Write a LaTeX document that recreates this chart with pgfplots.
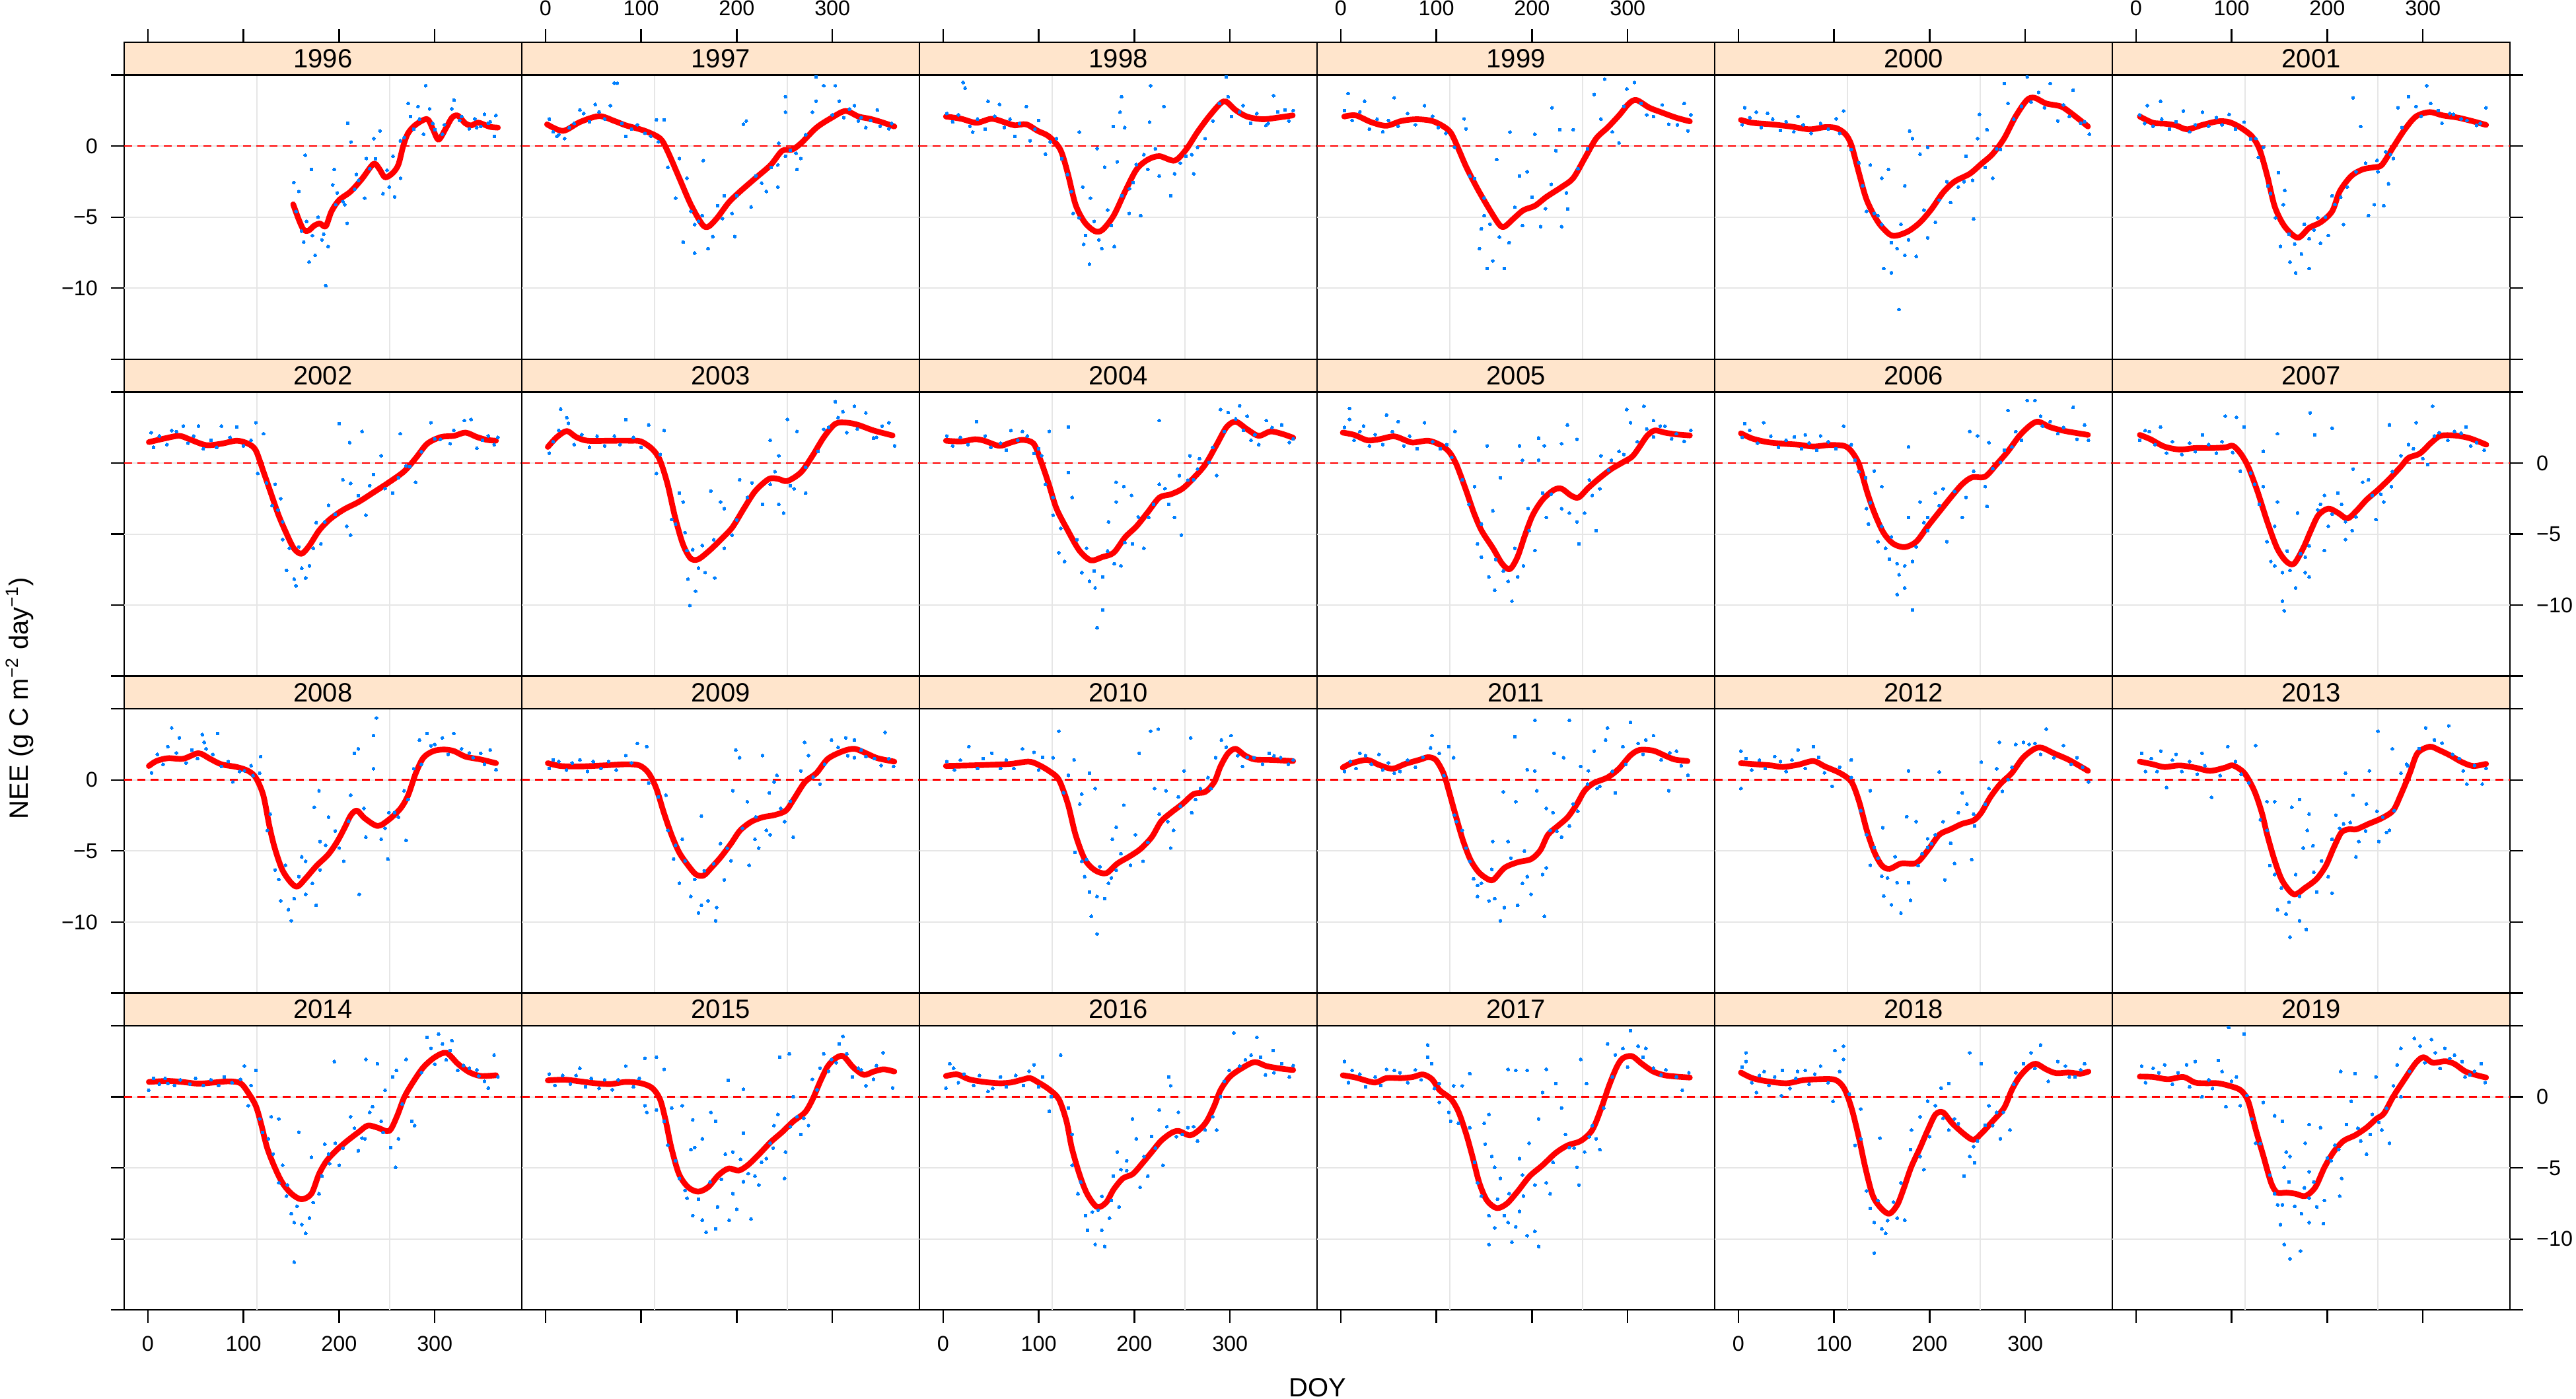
\documentclass[border=0pt]{standalone}
\usepackage{fontspec}
\setmainfont{Liberation Sans}
\usepackage{pgfplots}
\pgfplotsset{compat=1.18}
\definecolor{stripcol}{HTML}{FFE5CC}
\definecolor{dotcol}{HTML}{0080FF}
\definecolor{gridcol}{HTML}{E6E6E6}
\pgfplotsset{
  panel/.style={
    scale only axis, width=180.6pt, height=143.94pt, anchor=north west,
    xmin=-24.7, xmax=391, ymin=-15, ymax=7.306, clip=false,
    axis line style={line width=0.7pt},
    tick align=outside, major tick length=6pt,
    every tick/.style={black, line width=0.7pt},
    tick label style={font=\fontsize{9.7}{11}\selectfont},
    xtick=\empty, ytick=\empty,
    extra x ticks={114,253}, extra x tick labels={},
    extra x tick style={grid=major, major tick length=0pt},
    extra y ticks={-10,-5,0}, extra y tick labels={},
    extra y tick style={grid=major, major tick length=0pt},
    major grid style={gridcol, line width=0.6pt},
    xticklabel shift=2.5pt, yticklabel shift=2.5pt,
  },
  top/.style={xtick={0,100,200,300}, xtick pos=right, xticklabels={,,,}},
  topL/.style={xtick={0,100,200,300}, xtick pos=right, xticklabel pos=right, xticklabels={0,100,200,300}},
  bot/.style={xtick={0,100,200,300}, xtick pos=left, xticklabels={,,,}},
  botL/.style={xtick={0,100,200,300}, xtick pos=left, xticklabels={0,100,200,300}},
  lft/.style={ytick={-15,-10,-5,0,5}, ytick pos=left, yticklabels={,,,,}},
  lftL/.style={ytick={-15,-10,-5,0,5}, ytick pos=left, yticklabels={,−10,−5,0,}},
  rgt/.style={ytick={-15,-10,-5,0,5}, ytick pos=right, yticklabel pos=right, yticklabels={,,,,}},
  rgtL/.style={ytick={-15,-10,-5,0,5}, ytick pos=right, yticklabel pos=right, yticklabels={,−10,−5,0,}},
  zeroline/.style={red, line width=0.8pt, dash pattern=on 3.6pt off 2.4pt, no marks},
  dots/.style={only marks, color=dotcol, mark=*, mark size=0.7pt, mark options={solid, fill=dotcol, draw=dotcol, line width=0pt}},
  curve/.style={red, line width=2.6pt, smooth, tension=0.5, no marks, line join=round, line cap=round},
}
\newcommand{\panel}[6]{%
\begin{axis}[panel, at={({56.4pt+180.6pt*#1},{-19.2pt-143.94pt*#2})}, #4]
\addplot[zeroline] coordinates {(-24.7,0) (391,0)};
\addplot[dots] coordinates {#6};
\addplot[curve] coordinates {#5};
\fill[stripcol] (axis cs:-24.7,5) rectangle (axis cs:391,7.306);
\draw[line width=0.7pt] (axis cs:-24.7,5) rectangle (axis cs:391,7.306);
\node[font=\fontsize{12}{14}\selectfont] at (axis cs:183.15,6.153) {#3};
\end{axis}}
\begin{document}
\begin{tikzpicture}
\useasboundingbox (0,0) rectangle (1170pt,-635.1pt);
% ---------------- row 1
\panel{0}{0}{1996}{top,lftL}
{(152,-4.1)(158,-5.2)(163,-5.9)(168,-5.95)(174,-5.6)(180,-5.45)(186,-5.65)(192,-4.6)(200,-3.8)(212,-3.2)(224,-2.3)(236,-1.25)(242,-1.6)(248,-2.2)(256,-1.9)(262,-1.3)(267,0.0)(272,0.9)(280,1.5)(292,1.9)(298,1.2)(304,0.45)(312,1.3)(318,2.0)(324,2.15)(332,1.6)(338,1.45)(345,1.65)(352,1.5)(358,1.35)(366,1.3)}
{(152.6,-2.57)(158,-3.19)(164.6,-0.64)(171,-1.64)(160.6,-5.98)(163,-6.76)(168.6,-8.16)(175,-7.69)(186.1,-9.83)(182,-6.6)(188.5,-7.07)(194.9,-1.64)(193.3,-2.73)(196.5,-4.12)(208.4,-5.44)(206,-4.12)(209,1.61)(212.4,0.29)(216.4,-3.04)(220.4,-2.42)(226.8,-3.66)(228.4,-0.87)(236.4,0.53)(242.7,1.07)(245.9,-3.35)(252.3,-2.88)(258,-3.58)(256.3,-0.71)(264.3,-2.26)(272.2,3.0)(274.6,2.08)(282.5,2.78)(290.6,4.25)(294.6,2.62)(300.1,1.15)(288.2,0.84)(320.1,3.24)(317.7,2.62)(328,2.08)(336,1.22)(341.8,1.92)(352,2.23)(356,1.61)(363.9,2.16)(362.3,0.68)(348,1.38)(308,0.84)(264,0.37)(155,-4.6)(166,-5.3)(172,-6.3)(178,-5.0)(184,-6.2)(198,-3.3)(204,-3.9)(218,-2.0)(232,-1.6)(238,-0.9)(250,-1.7)(268,0.6)(278,1.2)(284,1.9)(298,1.6)(310,1.5)(326,1.8)(344,1.3)(358,1.7)}
\panel{1}{0}{1997}{topL}
{(1.7,1.53)(18.4,1.07)(36,1.69)(56,2.11)(72,1.77)(84,1.46)(104,1.07)(120,0.53)(128,-0.4)(140,-2.26)(152,-4.12)(164,-5.52)(170.4,-5.67)(179.6,-5.05)(191.6,-3.97)(203.6,-3.19)(219.5,-2.26)(235.5,-1.33)(247.5,-0.33)(257.9,-0.25)(267.5,0.22)(283.4,1.3)(299.4,2.0)(313.7,2.47)(327.3,2.08)(339.3,1.92)(351.2,1.69)(364.8,1.38)}
{(72,4.43)(75,4.43)(36,2.54)(52,2.93)(68,2.85)(12,0.68)(20,0.53)(84,0.68)(116,1.84)(124,1.84)(128,-1.49)(140,-0.87)(148,-2.26)(136,-3.66)(152,-4.59)(156,-5.52)(144,-6.76)(156,-7.53)(170,-7.22)(175,-6.37)(198,-6.37)(165,-1.02)(187,-3.5)(195,-4.74)(215,-4.28)(210,1.77)(207,1.53)(231,-3.19)(243,-2.88)(243,-1.33)(251,-0.71)(263,-1.64)(267,-0.87)(251,3.47)(283,4.87)(291,4.25)(303,4.25)(283,3.16)(279,2.39)(251,2.39)(307,3.16)(323,2.85)(335,1.3)(347,2.54)(359,1.22)(327,1.77)(4,1.9)(8,1.0)(14,0.8)(25,1.3)(30,1.6)(40,2.3)(46,1.7)(56,2.4)(62,1.9)(80,1.6)(90,1.2)(96,1.5)(104,0.9)(110,0.7)(118,0.3)(300,2.2)(312,2.0)(318,2.6)(330,2.0)(340,1.8)(350,1.4)(362,1.6)(256,-0.3)(262,-0.5)(272,0.8)(160,-5.3)(164,-4.9)(180,-4.2)(185,-5.1)(200,-3.5)(220,-2.1)(226,-2.6)(236,-1.5)(244,0.2)}
\panel{2}{0}{1998}{top}
{(3,2.08)(19,1.92)(35,1.64)(51,1.92)(67,1.61)(75,1.46)(87,1.53)(99,1.07)(110.6,0.68)(122.6,-0.25)(130.5,-1.95)(138.5,-4.12)(148,-5.36)(158.4,-5.98)(166.4,-5.91)(178.3,-4.9)(190.3,-3.19)(202.3,-1.64)(214.2,-0.95)(226.2,-0.71)(242.1,-1.02)(254,-0.25)(266,0.99)(278,2.08)(290,3.0)(296,3.13)(305.7,2.54)(317.6,2.08)(333.6,1.89)(349.5,2.0)(365.5,2.16)}
{(21,4.48)(23,4.09)(47,3.16)(59,2.93)(87,2.78)(31,0.99)(75,0.68)(91,0.37)(107,-0.56)(118.6,0.53)(142.5,0.99)(186.6,3.47)(185,2.39)(178,1.38)(190,1.3)(216,1.69)(217,4.25)(231,2.78)(161,-0.17)(169,-1.49)(182,-1.1)(146,-2.88)(154,-3.66)(136,-4.74)(142,-5.05)(149,-6.29)(147,-6.91)(153,-8.31)(166,-7.22)(163,-6.6)(179,-7.07)(187,-3.5)(194.6,-4.74)(206.6,-4.9)(198.6,-2.57)(214,-1.64)(226,-2.11)(242,-1.95)(238,-3.5)(254,-0.71)(262,-1.95)(266,-0.09)(274,0.53)(282,1.77)(289,3.0)(296,4.87)(298,3.47)(301.6,2.08)(313.6,2.85)(321.6,1.61)(337.6,1.46)(345.6,3.55)(357.5,2.54)(361.5,1.77)(4,2.3)(10,1.7)(16,2.2)(28,1.4)(36,1.9)(44,1.2)(54,2.1)(64,1.3)(70,1.9)(80,1.6)(96,1.2)(100,1.8)(112,0.3)(124,-0.9)(130,-2.0)(134,-3.2)(158,-5.3)(172,-4.5)(176,-5.6)(195,-3.0)(202,-1.3)(210,-0.6)(222,-0.2)(248,-1.2)(260,-0.6)(310,2.4)(328,2.3)(340,1.6)(350,2.4)(366,2.5)}
\panel{3}{0}{1999}{topL}
{(3.7,2.08)(15.7,2.16)(31.7,1.69)(47.6,1.43)(63.6,1.77)(79.6,1.89)(95.5,1.77)(107.5,1.38)(115.4,0.91)(123.4,-0.25)(131.4,-1.49)(143.3,-3.04)(155.3,-4.43)(165.7,-5.52)(171.2,-5.67)(181.6,-5.05)(191.1,-4.51)(203.1,-4.2)(215,-3.58)(231,-2.88)(243,-2.26)(255,-0.87)(267,0.53)(279,1.3)(291,2.16)(301.4,3.0)(309.2,3.24)(322.7,2.7)(334.7,2.39)(350.6,2.0)(365,1.74)}
{(7.7,3.7)(25,3.16)(56,3.4)(87.6,2.85)(129,1.92)(163,-0.95)(177,0.99)(153,-8.62)(171,-8.62)(159,-8.08)(147,-5.83)(145,-7.22)(150,-3.66)(187,-2.11)(195,-1.8)(203,0.84)(221,2.7)(229,1.15)(225,-0.33)(231,-5.67)(209,-5.67)(237.4,-4.43)(243,1.15)(265,3.63)(276,4.71)(299,4.02)(307,4.48)(291,0.22)(327,2.08)(343,1.53)(359,3.0)(363,1.07)(135,-2.11)(131,1.22)(119,-0.09)(4,2.5)(12,1.8)(20,2.4)(30,1.2)(38,1.9)(44,1.0)(50,1.8)(60,1.4)(70,2.3)(78,1.5)(96,2.1)(102,1.3)(110,0.9)(140,-2.3)(150,-4.9)(156,-5.5)(166,-6.4)(176,-6.8)(182,-4.3)(190,-5.6)(200,-3.6)(214,-4.4)(220,-2.7)(236,-3.3)(248,-1.6)(258,-0.2)(272,1.9)(284,1.0)(296,2.8)(314,3.0)(320,2.2)(336,2.9)(352,1.5)(366,2.2)}
\panel{4}{0}{2000}{top}
{(2.7,1.84)(14.7,1.64)(34.6,1.53)(54.5,1.38)(74.5,1.18)(90.4,1.33)(102.4,1.27)(112,0.84)(118.3,0.05)(126.3,-1.95)(134.3,-3.81)(146.2,-5.36)(158.2,-6.22)(166.2,-6.29)(178.1,-5.98)(190.1,-5.36)(202,-4.43)(214,-3.27)(226,-2.5)(241.9,-1.95)(253.9,-1.26)(265.8,-0.56)(277.8,0.53)(289.8,2.08)(301.7,3.24)(309.7,3.4)(321.7,3.0)(337.6,2.78)(349.6,2.23)(365.5,1.38)}
{(6.6,2.7)(18.7,2.39)(30.6,2.31)(62.5,2.08)(110,2.47)(102.4,1.92)(118,-0.25)(126,-1.18)(138,-1.33)(150,-2.26)(157,-1.64)(179,1.07)(174,-2.81)(182,0.53)(190,-0.56)(198,-0.09)(134,-4.59)(142,-4.74)(150,-5.52)(152,-8.62)(160,-8.93)(168,-11.5)(174,-7.69)(186,-7.77)(166,-7.22)(198,-6.45)(206,-5.36)(222,-3.97)(230,-2.88)(245,-2.42)(246,-5.13)(238,-0.71)(250,0.53)(252,2.23)(260,1.15)(266,-2.26)(274,-0.25)(282,3.0)(278,4.4)(302,4.87)(314,3.78)(326,4.4)(350,3.94)(358,1.61)(367,0.84)(334,1.77)(346,2.08)(4,1.5)(12,2.0)(24,1.3)(36,1.9)(44,1.1)(50,1.7)(58,1.0)(68,1.5)(76,0.9)(86,1.6)(94,1.2)(106,0.9)(130,-2.8)(146,-4.9)(160,-6.8)(170,-5.5)(178,-6.6)(194,-4.5)(210,-3.8)(218,-2.5)(236,-2.5)(258,-1.5)(270,-0.2)(288,1.9)(296,2.8)(306,3.1)(320,2.7)(340,2.9)(362,1.7)}
\panel{5}{0}{2001}{topL,rgt}
{(4,2.08)(17.7,1.64)(29.6,1.58)(41.6,1.46)(53.5,1.18)(69.5,1.49)(85.4,1.74)(97.4,1.69)(109.4,1.3)(121.3,0.68)(129.3,-0.25)(137.3,-2.11)(145.2,-4.28)(155.6,-5.67)(169.2,-6.45)(181.2,-5.75)(193.1,-5.36)(205.1,-4.59)(213,-3.19)(225,-2.11)(237,-1.64)(249,-1.49)(257,-1.33)(268.8,-0.09)(280.8,1.15)(292.7,2.08)(307.1,2.39)(320.6,2.16)(336.6,2.0)(352.5,1.74)(366,1.49)}
{(11.8,2.85)(25.7,3.16)(49.6,2.47)(69.5,2.39)(97.4,2.23)(113,1.69)(125.3,0.53)(133.3,-0.09)(149,-1.88)(155.6,-3.12)(140.6,-3.35)(146,-5.05)(154,-4.12)(151,-7.07)(161,-8.16)(167,-8.93)(181,-8.62)(173,-7.6)(181,-6.53)(193,-6.84)(201,-6.29)(190,-5.05)(205,-3.5)(217,-5.52)(221,-2.88)(227,3.4)(235,1.38)(243,-4.9)(249,-4.12)(259,-4.2)(253,-1.8)(264,-2.65)(261,-0.4)(269,-0.87)(274,2.7)(285,3.47)(292.7,2.78)(304,4.25)(308,3.0)(320,1.61)(332,2.23)(340,1.92)(356,1.46)(366,2.7)(4,2.2)(9,1.6)(18,1.4)(27,1.9)(35,1.2)(42,1.7)(56,1.0)(62,1.5)(76,1.4)(84,2.0)(90,1.5)(104,1.2)(120,0.5)(128,-0.8)(138,-2.8)(160,-6.2)(166,-6.9)(176,-5.5)(186,-5.9)(198,-5.0)(208,-4.1)(214,-3.6)(230,-1.8)(240,-1.2)(252,-1.0)(266,-0.6)(278,1.3)(298,2.1)(316,2.5)(328,2.3)(346,1.8)(360,1.6)}
% ---------------- row 2
\panel{0}{1}{2002}{lft}
{(1.1,1.47)(17,1.72)(33,1.91)(45,1.63)(61,1.26)(77,1.36)(93,1.57)(104.8,1.36)(112.8,0.9)(120.7,-0.57)(128.7,-2.12)(136.7,-3.67)(144.6,-4.91)(152.6,-6.0)(160.6,-6.39)(168.6,-5.84)(179,-4.76)(190,-3.98)(204.5,-3.29)(220.4,-2.74)(236.4,-2.05)(252.3,-1.35)(268.3,-0.57)(280.3,0.36)(292.2,1.36)(306.5,1.83)(320.1,1.91)(332.1,2.14)(344,1.83)(354.4,1.63)(364,1.57)}
{(3.5,2.14)(25,2.29)(37,2.6)(53,2.6)(77,2.6)(93,2.53)(113,2.84)(121,2.06)(115,-0.73)(133,-1.5)(139,-2.51)(141,-4.14)(141,-5.38)(145,-7.55)(153,-8.17)(155,-8.64)(165,-8.09)(161,-7.4)(169,-7.24)(173,-6.0)(181,-5.69)(185,-4.14)(189,-2.98)(200,2.76)(211,1.44)(204,-1.19)(212,-1.43)(212,-5.07)(208,-4.45)(224,2.22)(228,-3.67)(236,-0.81)(244,0.51)(256,-2.12)(262,-1.04)(264,2.06)(274,-0.26)(280,-1.35)(296,2.84)(306,1.67)(316,1.36)(331,2.99)(338,3.07)(344,1.05)(356,1.91)(362,1.29)(6,1.1)(12,1.9)(20,1.3)(30,2.2)(42,1.4)(48,1.9)(58,1.0)(66,1.6)(72,1.1)(86,1.8)(100,1.2)(108,1.6)(124,-1.4)(130,-3.0)(136,-3.3)(148,-6.0)(158,-5.9)(176,-4.2)(196,-3.6)(220,-2.3)(232,-1.6)(248,-1.8)(270,-0.2)(286,0.8)(300,1.7)(320,2.3)(350,1.6)(366,1.8)}
\panel{1}{1}{2003}{}
{(2.5,1.13)(12.1,1.83)(22.4,2.25)(32,1.83)(44,1.57)(68,1.57)(88,1.57)(99.8,1.52)(111.7,0.98)(119.7,0.2)(127.7,-1.5)(135.6,-3.83)(143.6,-5.69)(151.6,-6.7)(159.6,-6.78)(171.5,-6.16)(183.5,-5.38)(195.4,-4.53)(207.4,-3.21)(219.4,-1.97)(233.7,-1.12)(243.3,-1.12)(252.9,-1.27)(267.2,-0.65)(279.2,0.51)(291.2,1.83)(303.1,2.76)(315.1,2.84)(327,2.68)(343,2.29)(362.9,1.94)}
{(16,3.8)(22.4,3.18)(24,2.8)(84,3.05)(124,2.29)(108,2.68)(116,-0.73)(140,-2.12)(144,-2.74)(132,-3.98)(148,-6.16)(149,-8.17)(157,-9.02)(151,-10.03)(167,-7.71)(177,-8.09)(187,-6.0)(195,-5.07)(173,-1.97)(183,-2.74)(187,-3.21)(203,-1.19)(211,-2.43)(227,-2.9)(235,-1.5)(244,-2.9)(249,-3.52)(235,1.6)(253,3.07)(263,2.22)(244,0.51)(260,-1.81)(272,-2.12)(285,0.82)(291,2.37)(303,4.31)(311,3.61)(323,4.0)(335,3.53)(343,1.75)(359,2.84)(365,1.21)(315,2.14)(4,0.7)(8,1.5)(14,2.3)(30,1.3)(38,2.0)(46,1.1)(54,1.9)(62,1.2)(72,1.9)(78,1.3)(92,1.8)(100,1.1)(120,0.6)(136,-4.3)(146,-4.9)(154,-6.1)(160,-7.4)(164,-5.8)(176,-5.4)(200,-4.0)(216,-1.4)(240,-0.6)(256,-1.6)(272,-0.3)(296,2.5)(306,3.2)(326,2.4)(346,1.8)(352,2.6)}
\panel{2}{1}{2004}{}
{(3,1.57)(19,1.52)(33.3,1.67)(42.9,1.57)(58.8,1.21)(70.8,1.44)(82.8,1.63)(94.7,1.36)(102.7,0.05)(110.6,-1.5)(118.6,-3.21)(130.5,-4.76)(142.5,-6.16)(154.5,-6.85)(166.4,-6.62)(178.4,-6.31)(190.4,-5.22)(202.3,-4.45)(214.3,-3.44)(226.2,-2.43)(238.2,-2.2)(250.2,-1.81)(262.1,-1.04)(274.1,-0.11)(286,1.29)(296.4,2.53)(306,2.91)(318,2.37)(330,1.91)(342,2.22)(354,2.06)(366,1.78)}
{(35,2.91)(71,2.29)(83,2.22)(111,2.22)(131,2.53)(95,0.67)(103,0.51)(107,-1.5)(115,-2.43)(131,-0.68)(135,-2.43)(123,-4.6)(115,-3.67)(121,-6.31)(127,-6.93)(145,-7.71)(153,-8.33)(159,-8.79)(167,-10.34)(161,-11.6)(167,-8.02)(179,-7.09)(186,-7.24)(198,-5.69)(210,-6.0)(173,-4.14)(181,-2.74)(189,-1.66)(197,-2.28)(181,-1.35)(215,-3.83)(226,-1.5)(236,-2.9)(242,-3.83)(249,-5.07)(247,-0.88)(258,0.51)(266,-0.42)(262,-1.19)(278,0.05)(286,-0.88)(290,3.77)(298,3.55)(310,4.02)(318,3.3)(322,1.6)(338,2.99)(330,1.29)(354,2.68)(362,1.44)(226,2.99)(4,1.9)(10,1.2)(18,1.8)(26,1.3)(44,1.9)(50,1.1)(60,1.4)(66,0.9)(78,1.6)(88,1.9)(100,1.0)(140,-5.4)(150,-6.0)(158,-7.6)(172,-6.2)(190,-5.6)(204,-3.8)(220,-2.9)(232,-1.8)(256,-1.2)(268,0.3)(282,1.1)(294,2.2)(306,3.1)(314,2.3)(326,2.0)(344,2.5)(366,1.7)}
\panel{3}{1}{2005}{}
{(2.2,2.14)(14.1,1.98)(27.7,1.6)(40,1.67)(55.6,1.88)(67.6,1.6)(75.5,1.44)(91.5,1.57)(103.4,1.29)(113,0.82)(121,-0.11)(131.3,-1.97)(139.3,-3.52)(147.3,-4.76)(159.2,-6.0)(168.8,-7.09)(176.8,-7.47)(184.8,-6.62)(192.7,-5.07)(200.7,-3.67)(211,-2.59)(223,-1.89)(231,-1.81)(240.6,-2.28)(248.6,-2.43)(259,-1.74)(271,-1.04)(283,-0.42)(295,0.05)(304.4,0.43)(310.8,0.98)(320.3,1.91)(328.3,2.29)(338.7,2.14)(350.6,2.02)(365,1.94)}
{(9.3,3.84)(9.3,3.07)(24,2.6)(48,3.38)(60,2.91)(87.6,2.84)(119.4,2.22)(111,1.29)(127,-1.19)(140,-1.66)(153,1.21)(167,-1.04)(187,1.21)(190,0.2)(207,1.75)(213,1.21)(231,1.36)(237,2.68)(247,1.67)(207,0.2)(159,-3.36)(147,-4.29)(143,-5.69)(147,-6.62)(155,-8.02)(161,-8.95)(175,-8.33)(179,-9.72)(185,-8.02)(191,-7.24)(203,-6.16)(197,-4.76)(215,-3.83)(211,-2.12)(231,-3.21)(239,-3.52)(247,-4.14)(249,-5.69)(255,-3.52)(267,-4.76)(263,-2.28)(271,-1.81)(272,0.51)(283,0.2)(291,0.82)(299,3.77)(303,2.84)(317,4.0)(327,2.99)(339,2.6)(351,2.06)(359,1.52)(327,1.83)(4,2.5)(14,1.6)(20,2.2)(30,1.2)(36,2.0)(44,1.3)(54,2.2)(66,1.2)(72,1.9)(80,1.0)(96,1.5)(104,1.0)(116,0.4)(134,-2.9)(162,-6.8)(170,-7.6)(182,-6.0)(196,-3.2)(220,-2.2)(260,-1.2)(280,-0.5)(296,0.6)(310,1.5)(320,2.4)(334,2.6)(346,1.7)(366,2.3)}
\panel{4}{1}{2006}{}
{(2.7,2.09)(14.7,1.72)(30.6,1.47)(46.6,1.36)(62.5,1.29)(78.5,1.16)(94.4,1.26)(110.4,1.21)(118.3,0.82)(126.3,-0.11)(134.3,-1.97)(142.3,-3.52)(151.8,-4.91)(162.2,-5.69)(174.1,-5.92)(186.1,-5.53)(198.1,-4.45)(210,-3.44)(222,-2.43)(233.9,-1.5)(244.3,-1.01)(257.9,-0.96)(269.8,-0.11)(281.8,0.82)(293.8,1.91)(305.7,2.68)(313.7,2.91)(325.7,2.53)(341.6,2.25)(365.5,1.98)}
{(6.7,2.76)(26.6,2.84)(58.6,1.83)(70,1.98)(86,1.91)(110,2.6)(118,1.29)(122,0.2)(133,-1.04)(142,-0.57)(150,-1.66)(134,-3.21)(136,-4.29)(150,-4.45)(146,-5.53)(154,-6.0)(158,-6.77)(166,-7.09)(174,-7.24)(182,-6.93)(168,-7.86)(174,-8.79)(166,-9.26)(182,-10.34)(178,-3.83)(190,-2.74)(198,-3.83)(198,-4.76)(218,-5.53)(206,-2.12)(214,-1.81)(234,-3.83)(238,-2.43)(242,2.22)(250,1.91)(246,-0.57)(258,-1.66)(260,-3.05)(262,1.44)(274,0.05)(282,3.69)(286,1.13)(302,4.39)(310,4.39)(316,3.3)(326,2.91)(334,2.06)(350,3.92)(354,1.67)(362,2.68)(178,1.13)(4,1.8)(12,2.3)(20,1.4)(34,1.9)(42,1.1)(50,1.6)(66,1.0)(74,1.4)(82,0.9)(94,1.5)(102,1.0)(126,-0.6)(138,-2.8)(160,-5.2)(186,-5.9)(194,-4.2)(210,-3.0)(226,-2.0)(266,-0.4)(278,0.9)(290,2.2)(296,1.6)(318,2.6)(340,2.5)(366,1.6)}
\panel{5}{1}{2007}{rgtL}
{(4,1.98)(15.2,1.67)(29.6,1.16)(45.5,0.95)(61.5,1.05)(77.4,1.05)(93.4,1.1)(101.4,1.21)(109.4,0.67)(117.3,-0.26)(126.9,-1.97)(137.3,-4.14)(147.6,-6.0)(157.2,-6.93)(165.2,-7.09)(174.8,-6.0)(182.8,-4.76)(190.7,-3.67)(201.1,-3.21)(211.5,-3.52)(221,-3.91)(230.6,-3.36)(241,-2.59)(253,-1.89)(264.9,-1.12)(276.9,-0.26)(284.9,0.36)(296.8,0.67)(308.8,1.44)(318.3,1.91)(332.7,1.94)(348.6,1.75)(366.2,1.29)}
{(9.6,2.29)(25.7,2.53)(69.5,1.98)(93.4,3.3)(105,3.22)(113,2.53)(101,0.74)(109,-0.57)(133,0.82)(148,2.06)(182,3.53)(187,1.98)(205,2.45)(133,-1.66)(129,-2.9)(148,-2.74)(145,-4.45)(137,-5.53)(141,-6.93)(145,-7.24)(153,-7.71)(161,-7.55)(167,-8.79)(153,-9.72)(155,-10.4)(177,-7.71)(181,-8.02)(177,-6.62)(181,-5.84)(197,-6.16)(201,-4.45)(193,-2.9)(197,-2.28)(169,-3.52)(211,-2.12)(219,-4.14)(226,-4.76)(219,-5.38)(227,-0.42)(237,-1.35)(243,-1.19)(247,-2.28)(251,-3.98)(259,-2.74)(267,-1.66)(265,2.68)(277,0.51)(285,1.29)(293,2.84)(305,-0.11)(310,4.0)(317,2.14)(333,2.22)(345,2.53)(356,1.44)(364,0.9)(4,1.6)(14,2.2)(20,1.3)(32,0.7)(38,1.5)(48,0.6)(56,1.4)(62,0.8)(76,1.3)(84,0.7)(90,1.5)(120,-0.7)(124,-1.5)(158,-6.2)(172,-6.4)(190,-3.3)(205,-3.6)(215,-2.9)(230,-3.8)(256,-2.2)(268,-0.6)(290,1.0)(300,0.3)(312,1.9)(326,1.6)(340,2.1)(350,1.2)}
% ---------------- row 3
\panel{0}{2}{2008}{lftL}
{(1.1,0.98)(9,1.33)(21,1.53)(37,1.49)(53,1.88)(65,1.49)(76.9,1.1)(92.9,0.91)(104.8,0.64)(112.8,0.17)(120.7,-1.07)(127.1,-3.24)(132.7,-4.79)(140.7,-6.34)(150.2,-7.27)(156.6,-7.5)(164.6,-6.96)(176.6,-6.03)(188.5,-5.26)(198.1,-4.33)(206.1,-3.32)(212.4,-2.47)(218.8,-2.16)(226.8,-2.7)(240.3,-3.24)(252.3,-2.78)(264.3,-2.0)(272.2,-1.07)(280.2,0.48)(288.2,1.57)(298.6,2.03)(309.7,2.14)(320.1,2.03)(332.1,1.64)(348,1.44)(364,1.18)}
{(25,3.66)(21,2.34)(33,2.96)(57,3.19)(59,2.65)(73,3.27)(61,2.19)(77,0.95)(89,-0.14)(101,0.64)(118,1.64)(117,0.48)(125,-3.55)(133,-6.34)(137,-7.0)(139,-8.51)(147,-9.13)(150,-9.91)(153,-8.36)(165,-8.05)(176,-8.82)(172,-7.27)(180,-6.34)(165,-5.72)(161,-5.41)(179,-0.76)(174,-1.92)(180,-4.33)(189,-2.62)(200,-4.79)(205,-5.72)(221,-8.05)(212,-1.07)(220,2.19)(216,1.88)(236,3.12)(239,4.36)(236,0.79)(228,-4.02)(244,-4.17)(251,-5.57)(252,-2.31)(270,-4.25)(262,-2.62)(268,-0.76)(272,-1.38)(278,0.79)(284,2.81)(292,3.27)(300,2.5)(308,2.96)(320,3.27)(328,2.19)(340,1.57)(348,1.88)(358,2.11)(364,0.71)(4,0.5)(10,1.8)(16,1.1)(30,1.9)(40,1.2)(46,2.1)(52,1.5)(68,1.8)(84,1.3)(96,0.6)(108,1.0)(110,0.3)(128,-2.4)(144,-6.0)(158,-6.8)(186,-4.6)(196,-3.6)(210,-2.9)(226,-2.0)(248,-3.4)(258,-2.3)(286,1.1)(296,2.4)(314,1.8)(336,1.9)(352,1.1)}
\panel{1}{2}{2009}{}
{(2.5,1.18)(16,0.98)(36,0.95)(60,1.02)(84,1.1)(98.3,1.02)(107.9,0.48)(115.9,-0.6)(123.8,-2.31)(131.8,-3.86)(139.8,-5.1)(149.3,-6.03)(157.3,-6.65)(165.3,-6.73)(173.3,-6.19)(183.6,-5.41)(194,-4.48)(203.6,-3.55)(215.5,-2.93)(227.5,-2.62)(239.5,-2.47)(251.4,-2.16)(259.4,-1.38)(271.4,-0.14)(283.3,0.48)(295.3,1.49)(311.3,2.03)(323.2,2.19)(335.2,1.88)(347.2,1.53)(364.7,1.29)}
{(8,1.41)(36,1.41)(84,1.72)(96,2.57)(106,2.34)(108,-0.22)(126,-1.07)(128,-3.55)(143,-4.17)(134,-5.57)(140,-7.27)(152,-8.2)(160,-9.36)(178,-9.91)(170,-8.51)(179,-8.98)(163,-8.82)(187,-7.04)(163,-2.54)(183,-4.48)(194,-5.69)(213,-6.0)(199,2.11)(203,1.57)(227,1.72)(196,-0.76)(211,-1.53)(219,-4.17)(223,-4.79)(231,-3.55)(234,-0.91)(239,-0.14)(242,0.33)(235,-3.86)(259,-4.02)(250,-2.93)(267,0.64)(271,2.65)(275,1.72)(287,-0.29)(299,2.81)(314,2.96)(323,2.81)(335,1.64)(351,1.02)(355,3.35)(359,1.49)(364,0.95)(323,1.57)(4,0.8)(14,1.3)(22,0.7)(28,1.2)(44,0.6)(50,1.3)(58,0.8)(66,1.3)(74,0.7)(90,1.2)(118,-1.2)(136,-4.6)(146,-5.7)(156,-7.0)(166,-6.4)(176,-5.9)(190,-4.8)(206,-3.4)(220,-2.6)(246,-2.0)(256,-1.5)(280,0.2)(292,1.1)(306,2.3)(316,1.7)(330,2.1)(344,1.5)}
\panel{2}{2}{2010}{}
{(3,0.98)(27,1.02)(51,1.07)(70.8,1.13)(89.2,1.29)(98.7,1.1)(110.6,0.64)(121,0.02)(130.5,-1.69)(138.5,-3.86)(148,-5.57)(158.4,-6.34)(170.4,-6.57)(182.3,-5.88)(194.3,-5.41)(206.2,-4.87)(218.2,-4.02)(227.8,-2.93)(238.2,-2.31)(250.2,-1.69)(262.1,-0.99)(274.1,-0.84)(283.6,-0.14)(290,0.95)(298,1.88)(306,2.19)(315.6,1.72)(326,1.44)(342,1.41)(366,1.33)}
{(27,2.34)(51,1.88)(83,2.19)(95,1.95)(121,3.43)(115,1.57)(137,1.41)(131,0.33)(153,0.48)(145,-0.99)(143,-1.69)(159,-0.6)(138,-5.1)(145,-5.72)(148,-6.81)(153,-7.89)(161,-8.2)(169,-8.36)(155,-9.6)(161,-10.84)(173,-7.27)(181,-6.34)(177,-4.17)(181,-3.32)(189,-1.77)(201,-3.86)(209,-5.72)(205,1.88)(217,3.43)(225,3.58)(221,-0.6)(233,-0.76)(235,-2.93)(241,-3.55)(238,-4.79)(248,-1.85)(252,0.64)(260,-2.31)(264,-1.38)(259,2.96)(269,-0.6)(277,0.17)(285,1.57)(291,2.81)(301,3.12)(308,1.72)(313,0.95)(325,1.57)(341,1.88)(353,1.57)(361,1.1)(4,1.3)(12,0.7)(18,1.4)(36,0.8)(42,1.5)(60,0.8)(66,1.4)(74,0.8)(100,0.7)(104,1.6)(126,-0.9)(150,-5.6)(164,-6.1)(176,-6.9)(186,-5.2)(196,-6.0)(214,-4.4)(226,-2.4)(246,-1.2)(280,-0.6)(296,2.3)(318,1.6)(334,1.1)(346,1.7)(366,1.4)}
\panel{3}{2}{2011}{}
{(2.2,0.87)(11.7,1.18)(27.7,1.41)(39.6,1.07)(54,0.79)(67.6,1.13)(83.5,1.44)(91.5,1.6)(99.4,1.41)(107.4,0.48)(113,-0.76)(119.4,-2.31)(127.4,-4.17)(135.3,-5.57)(143.3,-6.42)(151.3,-6.88)(159.3,-7.04)(171.2,-6.19)(184.8,-5.8)(199.1,-5.57)(208.7,-4.95)(216.7,-3.86)(227,-3.24)(237.4,-2.62)(247,-1.69)(255,-0.76)(264.5,-0.22)(278.9,0.17)(290.8,0.79)(302.8,1.72)(312.4,2.11)(326.7,2.06)(338.7,1.72)(349.1,1.44)(362.6,1.33)}
{(20,1.88)(40,1.8)(56,0.48)(95.5,3.12)(94,2.26)(103,1.88)(113,2.34)(118,1.57)(119,-2.47)(121,-2.93)(127,-3.55)(131,-4.79)(135,-5.72)(139,-6.96)(143,-7.43)(147,-7.27)(143,-8.2)(155,-8.51)(161,-8.36)(167,-9.91)(171,-8.98)(185,-8.82)(190,-7.27)(199,-8.05)(213,-9.6)(211,-6.65)(215,-6.19)(195,-6.81)(159,-4.33)(175,-4.33)(170,-0.84)(183,-1.53)(182,3.04)(195,0.71)(203,0.64)(205,-0.76)(215,-2.0)(222,-2.31)(223,1.88)(233,1.57)(203,4.2)(239,4.2)(219,-3.55)(231,-4.02)(239,-3.24)(243,-1.69)(251,0.95)(259,0.64)(265,2.03)(271,-0.45)(277,2.81)(279,3.66)(287,-0.91)(295,2.34)(303,4.05)(311,2.57)(319,2.81)(327,3.12)(335,1.41)(343,-0.76)(351,2.03)(363,0.33)(4,0.6)(10,1.3)(16,0.8)(26,1.7)(32,1.1)(44,0.7)(50,1.2)(62,0.6)(70,1.4)(78,0.9)(86,1.6)(108,0.3)(158,-6.3)(178,-5.5)(192,-5.0)(226,-3.6)(248,-2.2)(258,-0.3)(268,-0.6)(284,0.6)(298,1.1)(316,1.8)(344,1.9)(356,1.0)}
\panel{4}{2}{2012}{}
{(2.7,1.18)(18.7,1.1)(34.6,1.02)(46.6,0.91)(62.5,1.07)(78.5,1.33)(90.4,0.95)(106.4,0.48)(118.3,-0.14)(126.3,-1.53)(134.3,-3.55)(142.3,-5.1)(150.2,-6.03)(158.2,-6.26)(170.2,-5.88)(186.1,-5.84)(198.1,-4.95)(210,-3.86)(222,-3.47)(233.9,-3.09)(245.9,-2.85)(253.9,-2.31)(263.4,-1.22)(273.8,-0.29)(285.8,0.48)(297.7,1.57)(309.7,2.19)(317.6,2.26)(329.6,1.88)(345.6,1.41)(365.5,0.64)}
{(2.7,2.03)(2.7,-0.6)(38,1.64)(62.5,2.11)(78.5,2.34)(98,-0.45)(118,1.41)(118,0.17)(138,-0.76)(178,0.64)(210,0.56)(128,-2.16)(134,-3.86)(151,-3.36)(142,-4.76)(138,-6.0)(150,-6.77)(152,-8.17)(160,-8.79)(170,-9.36)(166,-7.24)(178,-7.24)(180,-8.48)(188,-6.03)(198,-4.76)(176,-2.59)(186,-2.93)(198,-4.14)(206,-3.86)(216,-7.04)(214,-2.93)(222,-4.45)(226,-5.88)(230,-2.31)(234,-0.91)(239,-1.69)(244,-5.61)(247,-3.24)(254,1.26)(262,-0.6)(270,0.79)(273,2.65)(282,0.02)(290,2.5)(298,2.65)(310,2.57)(322,3.58)(330,1.57)(340,2.42)(354,1.57)(366,-0.14)(8,1.5)(14,0.7)(22,1.4)(28,0.8)(44,1.3)(50,0.6)(56,1.4)(70,0.8)(84,1.6)(90,0.5)(106,0.9)(146,-5.5)(156,-6.9)(164,-5.4)(192,-5.2)(202,-4.5)(246,-2.4)(258,-1.7)(276,-0.8)(286,0.9)(304,2.5)(316,1.8)(348,1.1)(360,0.9)}
\panel{5}{2}{2013}{rgt}
{(4,1.29)(17.7,1.1)(29.6,0.91)(45.5,1.02)(61.5,0.87)(77.4,0.64)(93.4,0.87)(101.4,1.02)(113.3,0.48)(123.7,-0.76)(131.6,-2.31)(137.2,-3.86)(145.2,-5.72)(153.2,-7.12)(165.1,-8.05)(177.1,-7.58)(189,-6.96)(198.6,-6.03)(206.6,-4.79)(214.6,-3.71)(222.5,-3.47)(230.5,-3.47)(243.3,-3.09)(256.8,-2.7)(268.8,-2.16)(276.7,-1.07)(286.3,0.48)(294.3,1.88)(307,2.34)(316.6,2.11)(328.6,1.72)(340.6,1.26)(352.5,0.98)(366,1.13)}
{(6,1.88)(26,2.03)(42,1.8)(69,1.88)(32,-0.53)(79,-1.22)(96,2.34)(125,2.42)(137,-1.53)(145,-1.53)(137,-3.55)(140,-6.03)(145,-6.65)(148,-9.13)(157,-9.44)(161,-11.07)(171,-9.91)(178,-10.53)(171,-8.2)(167,-6.65)(175,-4.79)(179,-3.55)(171,-1.38)(163,-1.92)(181,-2.39)(185,-4.64)(189,-7.89)(201,-6.81)(205,-7.97)(205,-4.17)(213,-3.4)(209,-2.47)(217,-3.09)(219,0.48)(227,-1.07)(230,-5.41)(233,-4.33)(241,-1.69)(244,0.64)(254,-4.33)(258,-2.62)(262,-3.71)(270,-2.16)(265,-3.55)(253,3.43)(268,2.19)(277,0.48)(283,1.1)(303,3.66)(312,2.81)(327,3.81)(331,1.8)(342,0.64)(346,-0.29)(354,1.02)(362,-0.29)(10,0.6)(16,1.5)(22,0.6)(38,1.4)(48,0.6)(56,1.3)(64,0.4)(72,1.0)(88,0.3)(104,1.3)(110,0.4)(118,-0.2)(130,-2.8)(152,-7.6)(160,-8.6)(186,-6.5)(194,-5.7)(224,-3.0)(240,-3.6)(252,-2.2)(284,1.0)(296,2.2)(320,2.6)(338,1.5)(366,0.8)}
% ---------------- row 4
\panel{0}{3}{2014}{botL,lft}
{(1.1,1.05)(21,1.12)(37,1.04)(53,0.93)(69,1.01)(84.8,1.09)(96.9,0.96)(104.8,0.31)(112.8,-0.62)(118.3,-1.86)(124.7,-3.57)(132.7,-4.96)(140.7,-6.05)(150.2,-6.82)(160.6,-7.21)(171,-6.82)(179,-5.43)(187,-4.5)(196.5,-3.8)(208.4,-3.1)(220.4,-2.48)(230,-2.02)(240.3,-2.17)(252.3,-2.4)(260.3,-1.4)(268.3,0.0)(277.8,1.09)(288.2,2.09)(300.1,2.79)(312.1,3.1)(324.1,2.33)(336,1.74)(348,1.47)(364,1.52)}
{(1,0.47)(21,0.93)(97,1.24)(101,2.17)(113,1.86)(105,-0.62)(117,-1.55)(129,-1.4)(137,-1.55)(126,-2.95)(131,-4.03)(141,-4.81)(137,-6.05)(145,-6.98)(150,-8.22)(153,-8.84)(161,-8.99)(165,-9.61)(169,-8.53)(173,-7.44)(179,-6.82)(182,-5.58)(153,-11.63)(158,-2.48)(171,-4.26)(185,-3.33)(189,-4.03)(196,-3.26)(200,-4.81)(195,2.48)(212,-1.4)(220,-3.8)(227,-2.95)(228,2.64)(240,2.33)(235,-0.7)(232,-1.09)(244,-1.71)(248,0.47)(254,-3.57)(259,-4.96)(262,-2.95)(256,1.4)(260,1.86)(270,2.64)(276,-1.71)(279,-2.02)(286,1.71)(292,4.19)(296,3.41)(304,4.42)(308,3.72)(318,3.95)(316,3.26)(324,1.86)(336,2.02)(346,1.47)(356,0.62)(362,2.95)(352,1.09)(6,1.3)(12,0.9)(18,1.3)(28,0.8)(34,1.2)(44,0.9)(50,1.3)(58,0.8)(66,1.2)(74,0.8)(80,1.4)(88,1.0)(108,0.8)(120,-2.5)(146,-6.2)(156,-7.7)(190,-4.7)(204,-3.6)(216,-2.2)(224,-2.9)(246,-2.5)(266,-0.5)(300,2.3)(312,2.6)(330,2.2)(344,1.9)(366,1.4)}
\panel{1}{3}{2015}{bot}
{(2.5,1.16)(20,1.21)(36,1.09)(52,0.96)(68,0.9)(84,1.05)(99.8,0.96)(111.7,0.62)(119.7,-0.16)(125.3,-1.55)(131.6,-3.57)(139.6,-5.43)(149.2,-6.36)(159.6,-6.67)(170,-6.36)(181.1,-5.5)(191.5,-5.04)(201.9,-5.19)(211.5,-4.81)(223.5,-4.03)(235.5,-3.18)(247.5,-2.48)(259.4,-1.71)(271.4,-1.09)(279.4,-0.16)(287.3,1.09)(295.3,2.17)(303.3,2.71)(311.3,2.87)(321.6,2.09)(332.8,1.55)(343.1,1.78)(353.5,1.94)(364.7,1.78)}
{(36,2.02)(84,2.17)(104,2.71)(116,2.79)(124,1.94)(104,-0.62)(106,-1.09)(116,-0.93)(132,-0.78)(143,-0.62)(124,-1.71)(154,-1.63)(164,-2.95)(173,-1.09)(178,-1.71)(191,1.16)(207,0.54)(207,-2.56)(188,-4.03)(196,-3.88)(152,-3.72)(156,-3.57)(136,-4.5)(140,-5.74)(148,-7.13)(154,-8.37)(164,-8.68)(168,-9.53)(178,-9.3)(180,-7.75)(192,-8.68)(200,-7.91)(215,-8.6)(196,-6.82)(207,-5.97)(219,-5.58)(223,-6.2)(231,-4.34)(235,-3.26)(239,-2.02)(243,-1.24)(250,-5.74)(251,-3.88)(245,2.79)(255,3.02)(259,0.0)(263,-1.4)(267,-2.64)(275,-2.02)(279,1.24)(287,2.02)(291,3.02)(299,2.64)(307,3.72)(311,4.26)(315,3.02)(321,1.4)(327,2.02)(335,0.78)(343,1.24)(353,3.1)(363,0.62)(4,1.6)(10,0.8)(18,1.5)(26,0.9)(32,1.5)(42,0.7)(48,1.3)(56,0.6)(62,1.2)(70,0.5)(76,1.2)(92,0.7)(98,1.3)(128,-3.4)(146,-6.6)(160,-7.2)(172,-6.0)(184,-5.8)(204,-4.4)(212,-5.4)(226,-4.6)(238,-3.6)(256,-2.1)(270,-1.5)(284,0.5)(296,1.8)(304,2.4)(330,1.9)(346,2.2)}
\panel{2}{3}{2016}{botL}
{(3,1.47)(15,1.58)(27,1.24)(42.9,1.05)(58.8,0.96)(70.8,1.01)(82.8,1.21)(90.8,1.32)(98.7,1.05)(110.6,0.54)(121,-0.16)(129,-1.71)(134.5,-3.57)(142.5,-5.43)(150.5,-6.82)(160.9,-7.75)(170.4,-7.44)(178.4,-6.51)(188,-5.74)(198.3,-5.43)(208.7,-4.65)(218.2,-3.88)(227.8,-3.1)(238.2,-2.56)(246.2,-2.4)(258.1,-2.71)(267.7,-2.33)(275.7,-1.71)(283.6,-0.62)(290,0.47)(299.6,1.4)(312.4,2.02)(325.9,2.45)(337.9,2.17)(353.8,1.98)(366,1.89)}
{(7,2.33)(11,2.02)(3,0.62)(47,0.39)(95,2.25)(123,2.95)(111,-1.01)(113,0.0)(131,-0.78)(135,-2.64)(135,-4.81)(141,-6.82)(149,-8.37)(151,-9.38)(159,-10.39)(169,-10.54)(166,-9.38)(162,-7.98)(174,-8.53)(176,-7.29)(184,-7.75)(178,-5.58)(182,-3.88)(186,-5.12)(192,-4.5)(198,-1.55)(202,-2.95)(206,-6.36)(214,-5.58)(218,-2.79)(226,-0.93)(230,-4.81)(236,1.4)(238,0.78)(246,-1.09)(250,-2.64)(256,-2.17)(266,-3.1)(274,-2.33)(282,-1.4)(286,-2.33)(290,0.0)(299,1.86)(304,4.5)(310,2.17)(322,2.95)(328,4.19)(337,1.55)(345,3.26)(354,2.33)(362,1.4)(16,1.0)(22,1.6)(32,0.8)(38,1.5)(52,0.6)(60,1.4)(66,0.7)(76,1.5)(84,0.8)(90,1.8)(100,0.7)(104,1.4)(144,-6.0)(156,-8.1)(166,-7.0)(192,-5.2)(210,-4.2)(222,-3.6)(234,-2.1)(244,-2.8)(262,-2.1)(294,1.1)(316,2.6)(332,2.8)(346,1.7)(366,2.2)}
\panel{3}{3}{2017}{bot}
{(2.2,1.52)(15.7,1.36)(35.6,1.01)(47.6,1.32)(63.6,1.32)(75.5,1.4)(85.9,1.58)(95.5,1.24)(103.4,0.47)(115.4,-0.16)(123.4,-1.09)(131.3,-2.64)(137.7,-4.19)(144.9,-6.05)(152.9,-7.29)(163.2,-7.83)(173.6,-7.52)(184.8,-6.67)(197.6,-5.58)(211.1,-4.81)(224.7,-3.95)(237.4,-3.41)(251,-3.1)(263,-2.33)(272.5,-0.78)(280.5,0.78)(288.5,2.09)(294.8,2.71)(304.4,2.87)(314.8,2.33)(326.8,1.78)(338.7,1.52)(350.7,1.43)(365,1.36)}
{(4,2.48)(12,1.86)(48,1.94)(56,1.86)(91,3.64)(91,2.79)(95,2.33)(103,0.93)(103,-0.39)(113,-1.09)(118,0.78)(127,0.78)(135,1.63)(115,-1.71)(123,-1.86)(135,-2.17)(150,-1.86)(155,-1.24)(151,-3.33)(158,-4.19)(161,-4.96)(167,-5.74)(143,-6.05)(147,-6.98)(155,-8.37)(161,-9.22)(155,-10.39)(179,-10.23)(207,-10.54)(171,-8.37)(175,-8.84)(183,-9.15)(195,-9.77)(203,-9.46)(187,-8.06)(191,-6.98)(203,-6.2)(215,-6.05)(219,-6.82)(187,-4.34)(197,-3.26)(207,-1.55)(211,0.31)(175,1.94)(183,1.86)(195,1.86)(215,1.94)(225,0.93)(231,-0.78)(235,-2.64)(239,-3.57)(247,-4.96)(249,-6.2)(255,-3.88)(257,0.93)(251,2.64)(263,-2.02)(267,-2.95)(271,-3.72)(275,-0.78)(279,3.72)(287,2.95)(295,3.41)(303,4.65)(311,3.57)(319,3.41)(327,2.02)(335,1.55)(351,1.4)(357,0.47)(8,1.0)(20,1.6)(26,0.7)(36,1.4)(42,0.8)(62,1.7)(70,1.0)(78,1.9)(84,1.2)(98,0.6)(140,-4.6)(164,-7.2)(176,-6.8)(190,-5.5)(222,-4.6)(244,-3.6)(260,-2.8)(284,1.4)(300,2.1)(316,2.8)(340,1.9)(364,1.7)}
\panel{4}{3}{2018}{botL}
{(2.7,1.71)(14.7,1.32)(30.6,1.09)(50.5,0.96)(66.5,1.16)(82.5,1.24)(100.8,1.21)(110.4,0.62)(118.3,-0.78)(126.3,-2.95)(132.7,-4.96)(140.7,-6.98)(150.2,-7.91)(158.2,-8.22)(166.2,-7.6)(172.6,-6.51)(180.6,-4.96)(190.1,-3.57)(198.1,-2.33)(206.1,-1.24)(214,-1.09)(223.6,-1.86)(236.4,-2.64)(246,-3.02)(255.5,-2.48)(265.9,-1.71)(277.8,-0.78)(285.8,0.47)(293.8,1.4)(303.4,2.09)(311.3,2.33)(321.7,1.94)(332,1.67)(345.6,1.71)(357.5,1.63)(366,1.78)}
{(8,3.1)(8,2.48)(27,1.78)(46,1.86)(62,1.78)(70,1.86)(86,2.17)(101,3.26)(110,3.57)(110,2.64)(106,1.78)(19,0.31)(45,0.08)(99,-0.31)(128,-0.85)(128,-2.95)(122,-3.41)(134,-6.62)(138,-7.86)(142,-8.84)(150,-9.3)(154,-9.61)(166,-8.53)(174,-8.68)(142,-11.0)(148,-2.9)(170,-6.05)(180,-3.72)(190,-4.19)(194,-5.12)(181,-2.33)(190,-1.4)(198,-0.31)(206,-0.62)(212,0.62)(220,0.93)(220,-2.33)(226,-1.55)(242,3.1)(236,-5.58)(242,-4.19)(247,-4.65)(250,-3.1)(254,2.33)(262,-0.62)(266,-2.02)(274,-2.95)(277,-1.09)(284,-2.33)(290,1.71)(298,2.33)(306,3.1)(316,3.64)(324,1.09)(334,2.48)(342,2.17)(352,1.4)(362,2.33)(4,2.1)(14,1.0)(22,1.5)(32,0.8)(38,1.4)(54,0.6)(60,1.3)(74,0.9)(80,1.6)(94,1.0)(116,0.2)(146,-7.3)(156,-8.7)(162,-7.4)(200,-2.8)(214,-1.5)(230,-1.9)(246,-3.5)(258,-2.0)(270,-1.1)(288,0.9)(310,2.0)(346,1.4)(358,1.9)}
\panel{5}{3}{2019}{bot,rgtL}
{(4,1.43)(17.7,1.4)(33.7,1.24)(49.6,1.4)(61.5,1.01)(73.4,0.96)(85.4,0.96)(97.4,0.78)(109.4,0.47)(117.3,-0.31)(125.3,-2.33)(133.3,-4.19)(141.3,-6.05)(147.6,-6.74)(157.2,-6.74)(166.8,-6.82)(177.1,-6.98)(187.5,-6.36)(197.1,-4.96)(206.6,-3.88)(217,-3.1)(229,-2.71)(241,-2.17)(251.3,-1.55)(259.3,-1.16)(268.8,0.0)(280.8,1.24)(292.7,2.4)(300.7,2.79)(310.3,2.4)(323.1,2.51)(332.6,2.33)(344.6,1.78)(356.5,1.52)(366,1.36)}
{(6,2.17)(18,2.02)(30,2.25)(53,2.25)(62,2.48)(86,2.56)(90,1.78)(97,4.88)(113,4.42)(105,1.4)(109,-0.62)(94,-0.7)(69,0.0)(121,-1.55)(133,-0.39)(145,-1.33)(153,-1.71)(125,-3.26)(157,-3.88)(161,-4.19)(155,-4.96)(145,-6.82)(153,-7.6)(151,-9.0)(155,-10.39)(161,-11.4)(172,-10.85)(173,-8.22)(181,-8.84)(196,-8.92)(189,-7.75)(197,-7.29)(181,-7.13)(181,-5.27)(177,-3.26)(181,-1.95)(193,-2.17)(215,-5.74)(213,-6.98)(204,-4.5)(212,-3.72)(220,-1.95)(214,1.78)(229,1.63)(225,-0.31)(235,-3.1)(241,-4.03)(245,-2.64)(247,-1.24)(251,1.4)(257,-2.33)(265,-3.26)(269,0.78)(273,2.25)(277,0.0)(277,3.41)(291,4.11)(297,3.57)(309,4.04)(313,3.1)(323,3.41)(333,2.95)(341,2.48)(349,1.55)(361,2.33)(365,1.01)(10,1.0)(24,1.7)(38,0.9)(44,1.7)(56,0.7)(76,1.2)(80,0.6)(100,1.1)(116,0.1)(130,-3.3)(140,-5.5)(148,-7.6)(160,-6.0)(166,-7.7)(176,-6.4)(186,-6.0)(200,-4.3)(208,-3.4)(232,-2.2)(254,-1.8)(262,-0.8)(286,1.8)(302,2.4)(318,2.0)(328,2.7)(344,1.4)(354,1.8)}
% ---------------- outer labels
\node[font=\fontsize{12}{14}\selectfont] at (598.5pt,-630.3pt) {DOY};
\node[font=\fontsize{12}{14}\selectfont, rotate=90] at (9pt,-317.1pt) {NEE (g C m\textsuperscript{−2} day\textsuperscript{−1})};
\end{tikzpicture}
\end{document}
